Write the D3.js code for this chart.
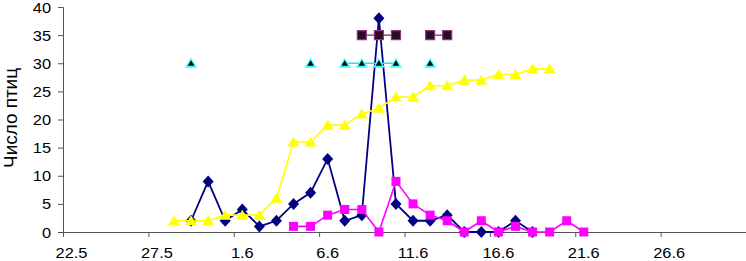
<!DOCTYPE html>
<html>
<head>
<meta charset="utf-8">
<script src="https://cdn.jsdelivr.net/npm/d3@7"></script>
<style>
    html, body { margin: 0; padding: 0; background: #fff; }
    text { font-family: "Liberation Sans", Arial, sans-serif; fill: #000; }
</style>
</head>
<body>
<svg id="chart" width="746" height="261"></svg>
<script>
"use strict";

// dates on the x axis (day.month), first slot of the axis is 22.5
var startDate = "22.5";
var tickLabels = ["22.5", "27.5", "1.6", "6.6", "11.6", "16.6", "21.6", "26.6"];
var yTicks = [0, 5, 10, 15, 20, 25, 30, 35, 40];

var obsDates = ["28.5", "29.5", "30.5", "31.5", "1.6", "2.6", "3.6", "4.6", "5.6", "6.6",
    "7.6", "8.6", "9.6", "10.6", "11.6", "12.6", "13.6", "14.6", "15.6", "16.6",
    "17.6", "18.6", "19.6", "20.6", "21.6"];

var navySeries = [null, 2, 9, 2, 4, 1, 2, 5, 7, 13, 2, 3, 38, 5, 2, 2, 3, 0, 0, 0, 2, 0, null, null, null];
var magentaSeries = [null, null, null, null, null, null, null, 1, 1, 3, 4, 4, 0, 9, 5, 3, 2, 0, 2, 0, 1, 0, 0, 2, 0];
var yellowSeries = [2, 2, 2, 3, 3, 3, 6, 16, 16, 19, 19, 21, 22, 24, 24, 26, 26, 27, 27, 28, 28, 29, 29, null, null];
var cyanSeries = [null, 30, null, null, null, null, null, null, 30, null, 30, 30, 30, 30, null, 30,
    null, null, null, null, null, null, null, null, null];
var purpleSeries = [null, null, null, null, null, null, null, null, null, null, null, 35, 35, 35, null, 35, 35,
    null, null, null, null, null, null, null, null];

var yTitle = "Число птиц";

function dayIndex(s) {
    var p = s.split("."),
        b = startDate.split(".");
    var d = new Date(2000, +p[1] - 1, +p[0]),
        d0 = new Date(2000, +b[1] - 1, +b[0]);
    return Math.round((d - d0) / 86400000);
}

var svg = d3.select("#chart");

var x = d3.scaleLinear().domain([0, 40]).range([63, 746]);
var y = d3.scaleLinear().domain([0, 40]).range([232, 7]);

var axisColor = "#555";

// y axis
var yAxis = svg.append("g")
    .attr("transform", "translate(63,0)")
    .call(d3.axisLeft(y).tickValues(yTicks).tickSize(5).tickPadding(7).tickFormat(d3.format("d")));
yAxis.select(".domain").attr("stroke", axisColor);
yAxis.selectAll(".tick line").attr("stroke", axisColor);
yAxis.selectAll(".tick text")
    .style("font-size", "14px")
    .attr("font-family", null)
    .attr("x", null)
    .attr("dy", null)
    .attr("transform", "translate(-12,5) scale(1.17,1)");

// x axis: ticks on slot boundaries, labels in the middle of the day slot
var xTickVals = d3.range(0, 41, 5);
var xAxis = svg.append("g")
    .attr("transform", "translate(0,232)")
    .call(d3.axisBottom(x).tickValues(xTickVals).tickSize(5).tickFormat(""));
xAxis.select(".domain").attr("stroke", axisColor).attr("d", "M58,0.5H746");
xAxis.selectAll(".tick line").attr("stroke", axisColor);

svg.append("g").selectAll("text")
    .data(tickLabels)
    .join("text")
    .attr("transform", function (d) {
        return "translate(" + x(dayIndex(d) + 0.5) + ",258) scale(1.17,1)";
    })
    .attr("text-anchor", "middle")
    .style("font-size", "14px")
    .text(function (d) { return d; });

// y title
svg.append("text")
    .attr("transform", "translate(17,118) scale(1.05,1) rotate(-90)")
    .attr("text-anchor", "middle")
    .style("font-size", "17px")
    .attr("textLength", 100)
    .attr("lengthAdjust", "spacingAndGlyphs")
    .text(yTitle);

function points(values) {
    return obsDates.map(function (d, i) {
        return {x: x(dayIndex(d) + 0.5), v: values[i]};
    });
}

var line = d3.line()
    .defined(function (d) { return d.v !== null; })
    .x(function (d) { return d.x; })
    .y(function (d) { return y(d.v); });

function drawLine(values, color, width) {
    svg.append("path")
        .datum(points(values))
        .attr("fill", "none")
        .attr("stroke", color)
        .attr("stroke-width", width)
        .attr("d", line);
}

function drawMarkers(values, pathFn, fill, stroke, sw) {
    svg.append("g").selectAll("path")
        .data(points(values).filter(function (d) { return d.v !== null; }))
        .join("path")
        .attr("transform", function (d) { return "translate(" + d.x + "," + y(d.v) + ")"; })
        .attr("d", pathFn)
        .attr("fill", fill)
        .attr("stroke", stroke || "none")
        .attr("stroke-width", sw || 0);
}

var diamond = "M0,-6L5.5,0L0,6L-5.5,0Z";
var square = "M-4.5,-4.5H4.5V4.5H-4.5Z";
var triangle = "M0,-5.5L6,4.5H-6Z";
var smallTriangle = "M0,-3L3.2,2.5H-3.2Z";

// navy diamonds
drawLine(navySeries, "#000080", 1.8);
drawMarkers(navySeries, diamond, "#000080");

// yellow triangles
drawLine(yellowSeries, "#ffff00", 1.6);
drawMarkers(yellowSeries, triangle, "#ffff00");

// magenta squares
drawLine(magentaSeries, "#ff00ff", 1.6);
drawMarkers(magentaSeries, square, "#ff00ff");

// cyan triangles with black centre
drawLine(cyanSeries, "#33e0e0", 1.4);
drawMarkers(cyanSeries, triangle, "#33ffff");
drawMarkers(cyanSeries, smallTriangle, "#000");

// dark purple squares
drawLine(purpleSeries, "#7a2a6a", 1.4);
drawMarkers(purpleSeries, square, "#2a0a26", "#8a3a7a", 1.2);
</script>
</body>
</html>
